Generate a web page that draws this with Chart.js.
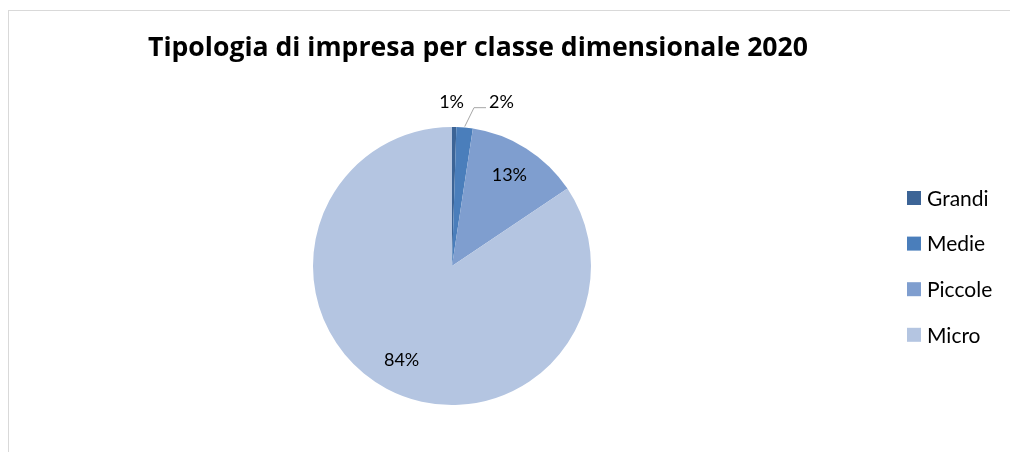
<!DOCTYPE html>
<html>
<head>
<meta charset="utf-8">
<script src="https://cdn.jsdelivr.net/npm/chart.js@4/dist/chart.umd.min.js"></script>
<style>
  body{margin:0;background:#fff;overflow:hidden;}
  #cornice{position:absolute;left:8px;top:10px;width:1100px;height:500px;border-left:1px solid #d9d9d9;border-top:1px solid #d9d9d9;}
  #grafTipologia{position:absolute;left:0;top:0;}
</style>
</head>
<body>
<div id="cornice"></div>
<canvas id="grafTipologia" width="1010" height="452"></canvas>
<script>
// dati (quote % per classe dimensionale)
const titolo = 'Tipologia di impresa per classe dimensionale 2020';
const categorie = ['Grandi','Medie','Piccole','Micro'];
const quote = [0.5, 1.9, 13.2, 84.4];
const colori = ['#3c6496','#4a7ebb','#7f9ecf','#b4c5e1'];

const FONT = 'Lato, Calibri, "Open Sans", sans-serif';

function perc(v,tot){ return Math.round(v/tot*100+1e-9)+'%'; }

// titolo + legenda + etichette dati disegnati a mano (stile Excel)
const pluginExcel = {
  id:'excelLook',
  afterDraw(chart){
    const ctx = chart.ctx;
    ctx.save();
    // titolo: Open Sans bold, portato alla larghezza dell'originale (~660px)
    ctx.fillStyle = '#000';
    ctx.font = 'bold 24px "Open Sans", sans-serif';
    let sz = 24*660/ctx.measureText(titolo).width;
    ctx.font = 'bold '+sz.toFixed(1)+'px "Open Sans", sans-serif';
    ctx.textAlign = 'center';
    ctx.textBaseline = 'middle';
    ctx.fillText(titolo, 478, 48);

    // legenda
    ctx.font = '21px '+FONT;
    ctx.textAlign = 'left';
    let ds = chart.data.datasets[0];
    chart.data.labels.forEach((l,i)=>{
      let y = 198 + i*45.6;
      ctx.fillStyle = ds.backgroundColor[i];
      ctx.fillRect(907, y-7, 14, 14);
      ctx.fillStyle = '#000';
      ctx.fillText(l, 927, y+1);
    });

    // etichette percentuali
    let meta = chart.getDatasetMeta(0);
    let tot = ds.data.reduce((a,b)=>a+b,0);
    ctx.font = '18px '+FONT;
    ctx.textBaseline = 'middle';
    let prevFuori = null;
    meta.data.forEach((arc,i)=>{
      let p = arc.getProps(['x','y','startAngle','endAngle','outerRadius'],true);
      let mid = (p.startAngle+p.endAngle)/2;
      let r = p.outerRadius;
      let txt = perc(ds.data[i],tot);
      let w = ctx.measureText(txt).width;
      ctx.fillStyle = '#000';
      if(ds.data[i]/tot >= 0.05){
        ctx.textAlign = 'center';
        ctx.fillText(txt, p.x+Math.cos(mid)*r*0.77, p.y+Math.sin(mid)*r*0.77);
        return;
      }
      // fette piccole: fuori dal cerchio
      let lx = p.x+Math.cos(mid)*(r+25);
      let ly = p.y+Math.sin(mid)*(r+25);
      let left = lx-w/2-3;
      if(prevFuori && left < prevFuori+25){
        left = prevFuori+25;
        let ex = p.x+Math.cos(mid)*(r+1), ey = p.y+Math.sin(mid)*(r+1);
        ctx.strokeStyle = '#a6a6a6';
        ctx.lineWidth = 1;
        ctx.beginPath();
        ctx.moveTo(ex,ey);
        ctx.lineTo(left-15, ly+5);
        ctx.lineTo(left-3, ly+5);
        ctx.stroke();
      }
      ctx.textAlign = 'left';
      ctx.fillText(txt, left, ly);
      prevFuori = left+w;
    });
    ctx.restore();
  }
};

new Chart(document.getElementById('grafTipologia').getContext('2d'),{
  type:'pie',
  data:{
    labels:categorie,
    datasets:[{data:quote,backgroundColor:colori,borderWidth:0}]
  },
  options:{
    responsive:false,
    animation:false,
    devicePixelRatio:1,
    layout:{padding:{top:127,bottom:47,left:200,right:306}},
    plugins:{legend:{display:false},title:{display:false},tooltip:{enabled:false}}
  },
  plugins:[pluginExcel]
});
</script>
</body>
</html>
